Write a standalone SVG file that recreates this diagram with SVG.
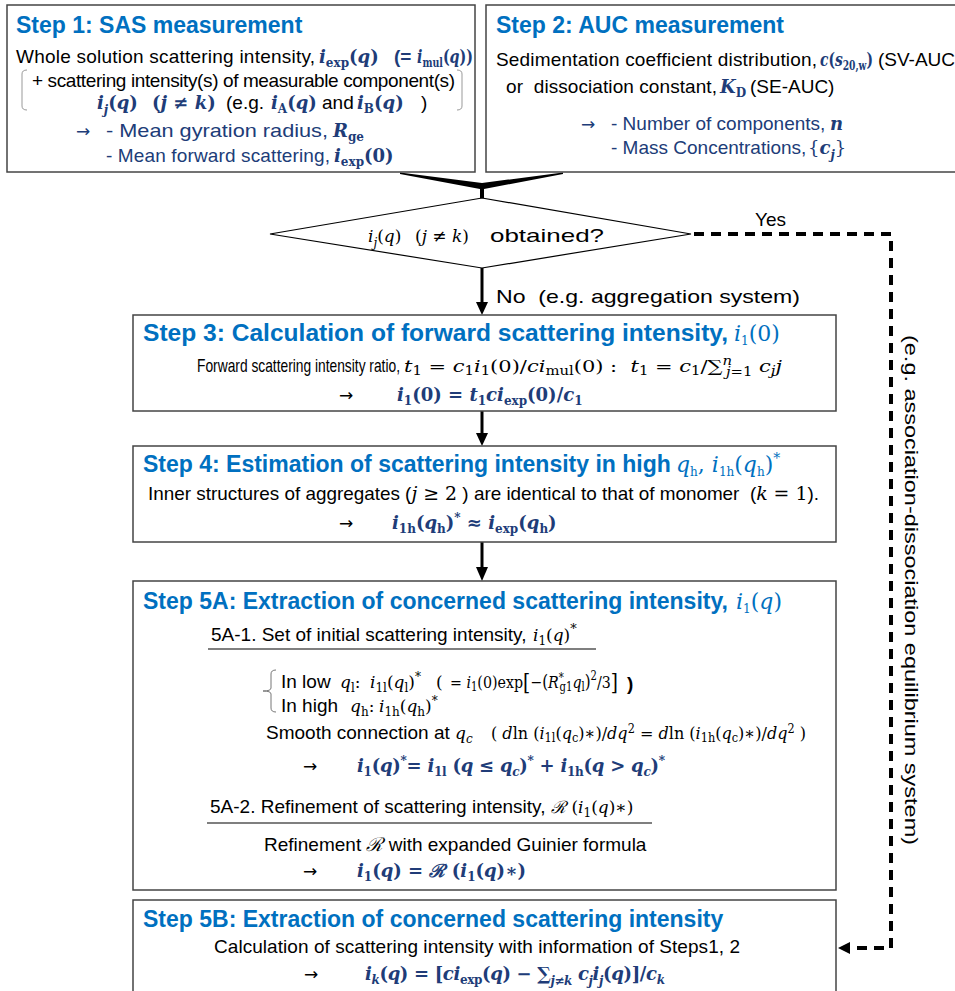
<svg xmlns="http://www.w3.org/2000/svg" width="955" height="991" viewBox="0 0 955 991">
<style>
.box{fill:#fff;stroke:#444;stroke-width:1.5}
.ti{font-family:"Liberation Sans",Arial,sans-serif;font-weight:bold;font-size:23px;fill:#0070C0}
.tx{font-family:"Liberation Sans",Arial,sans-serif;font-size:19px;fill:#000}
.ar{font-family:"DejaVu Sans",sans-serif;font-size:17px;fill:#000}
.nv{fill:#203C78}
.mb{font-family:"DejaVu Serif",serif;font-style:italic;font-weight:bold;font-size:18px;fill:#203C78}
.mr{font-family:"DejaVu Serif",serif;font-style:italic;font-size:17px;fill:#000}
.tm{font-family:"DejaVu Serif",serif;font-style:italic;font-size:22px;fill:#0070C0}
.up{font-style:normal}
.su{font-size:12px;font-style:normal}
.si{font-size:12px;font-style:italic}
.pre{white-space:pre}
.arr{fill:#000}
</style>

<g id="connectors">
  <polygon points="400,172.5 482,183 563,172.5 563,174 484,189 484,199 480,199 480,189 400,174" fill="#000"/>
  <line x1="482" y1="268" x2="482" y2="303" stroke="#000" stroke-width="3"/>
  <polygon class="arr" points="476,302 488,302 482,315"/>
  <line x1="482" y1="411" x2="482" y2="434" stroke="#000" stroke-width="3"/>
  <polygon class="arr" points="476,433 488,433 482,446"/>
  <line x1="482" y1="542" x2="482" y2="568" stroke="#000" stroke-width="3"/>
  <polygon class="arr" points="476,567 488,567 482,581"/>
  <path d="M694,234 H891 V948 H852" fill="none" stroke="#000" stroke-width="4" stroke-dasharray="10 7"/>
  <polygon class="arr" points="850,942 850,954 838,948"/>
  <text class="tx" x="755" y="226" font-size="22">Yes</text>
  <text class="tx pre" x="496" y="303" font-size="22" textLength="304" lengthAdjust="spacingAndGlyphs">No  (e.g. aggregation system)</text>
  <text class="tx" font-size="22" transform="translate(905,335) rotate(90)" textLength="510" lengthAdjust="spacingAndGlyphs">(e.g. association-dissociation equilibrium system)</text>
</g>

<g id="step1">
  <rect class="box" x="7" y="5" width="468" height="167" stroke="#333"/>
  <text class="ti" x="16" y="33">Step 1: SAS measurement</text>
  <text class="tx" x="16" y="63" textLength="299">Whole solution scattering intensity,</text>
  <text class="mb" x="319" y="63" font-size="19">i<tspan class="su" dy="4">exp</tspan><tspan class="up" dy="-4">(</tspan>q<tspan class="up">)</tspan></text>
  <text class="tx nv" x="394" y="63" font-weight="bold">(=</text>
  <text class="mb" x="417" y="63" font-size="18" textLength="56" lengthAdjust="spacingAndGlyphs">i<tspan class="su" dy="4">mul</tspan><tspan class="up" dy="-4">(</tspan>q<tspan class="up">))</tspan></text>
  <path d="M27,70 Q22,70 22,74 V106 Q22,110 27,110 M457,70 Q462,70 462,74 V106 Q462,110 457,110" fill="none" stroke="#999" stroke-width="1"/>
  <text class="tx" x="32" y="87" textLength="423">+ scattering intensity(s) of measurable component(s)</text>
  <text class="mb" x="97" y="109" font-size="19">i<tspan class="si" dy="5">j</tspan><tspan class="up" dy="-5">(</tspan>q<tspan class="up">)</tspan></text>
  <text class="mb pre" x="152" y="109" font-size="19"><tspan class="up">(</tspan>j<tspan class="up"> ≠ </tspan>k<tspan class="up">)</tspan></text>
  <text class="tx" x="226" y="109">(e.g.</text>
  <text class="mb" x="271" y="109" font-size="19">i<tspan class="su" dy="4">A</tspan><tspan class="up" dy="-4">(</tspan>q<tspan class="up">)</tspan></text>
  <text class="tx" x="322" y="109">and</text>
  <text class="mb" x="357" y="109" font-size="19">i<tspan class="su" dy="4">B</tspan><tspan class="up" dy="-4">(</tspan>q<tspan class="up">)</tspan></text>
  <text class="tx" x="421" y="109">)</text>
  <text class="ar nv" x="76" y="137">→</text>
  <text class="tx nv" x="106" y="137" textLength="222" lengthAdjust="spacingAndGlyphs">- Mean gyration radius,</text>
  <text class="mb" x="333" y="137" font-size="19">R<tspan class="su" dy="4">ge</tspan></text>
  <text class="tx nv" x="106" y="162" textLength="224">- Mean forward scattering,</text>
  <text class="mb" x="334" y="162" font-size="19">i<tspan class="su" dy="4">exp</tspan><tspan class="up" dy="-4">(0)</tspan></text>
</g>

<g id="step2">
  <rect class="box" x="486" y="5" width="480" height="167" stroke="#333"/>
  <text class="ti" x="496" y="33">Step 2: AUC measurement</text>
  <text class="tx" x="496" y="66" textLength="321">Sedimentation coefficient distribution,</text>
  <text class="mb" x="820" y="66" font-size="17" textLength="53" lengthAdjust="spacingAndGlyphs">c<tspan class="up">(</tspan>s<tspan class="su" font-size="11" dy="4">20,w</tspan><tspan class="up" dy="-4">)</tspan></text>
  <text class="tx" x="878" y="66">(SV-AUC</text>
  <text class="tx pre" x="506" y="93" textLength="211">or  dissociation constant,</text>
  <text class="mb" x="720" y="93" font-size="18">K<tspan class="su" dy="4">D</tspan></text>
  <text class="tx" x="750" y="93">(SE-AUC)</text>
  <text class="ar nv" x="581" y="130">→</text>
  <text class="tx nv" x="611" y="130">- Number of components,</text>
  <text class="mb" x="830" y="130" font-size="19">n</text>
  <text class="tx nv" x="611" y="154">- Mass Concentrations,</text>
  <text class="mb" x="808" y="154" font-size="19"><tspan class="up" font-weight="normal">{</tspan>c<tspan class="si" dy="5">j</tspan><tspan class="up" font-weight="normal" dy="-5">}</tspan></text>
</g>

<g id="decision">
  <polygon points="482,198 691,234 482,268 270,234" fill="#fff" stroke="#000" stroke-width="1.2"/>
  <text class="mr" x="368" y="242" font-size="22">i<tspan class="si" font-size="14" dy="5">j</tspan><tspan class="up" dy="-5">(</tspan>q<tspan class="up">)</tspan></text>
  <text class="mr pre" x="415" y="242" font-size="22"><tspan class="up">(</tspan>j<tspan class="up"> ≠ </tspan>k<tspan class="up">)</tspan></text>
  <text class="tx" x="490" y="242" font-size="22" textLength="114" lengthAdjust="spacingAndGlyphs">obtained?</text>
</g>

<g id="step3">
  <rect class="box" x="133" y="315" width="703" height="96"/>
  <text class="ti" x="143" y="341" font-size="24" textLength="585" lengthAdjust="spacingAndGlyphs">Step 3: Calculation of forward scattering intensity,</text>
  <text class="tm" x="734" y="341">i<tspan class="su" font-size="15" dy="4">1</tspan><tspan class="up" dy="-4">(0)</tspan></text>
  <text class="tx" x="197" y="372" font-size="17" textLength="203" lengthAdjust="spacingAndGlyphs">Forward scattering intensity ratio,</text>
  <text class="mr pre" x="404" y="372" font-size="15" textLength="378" lengthAdjust="spacingAndGlyphs">t<tspan class="su" font-size="10" dy="3">1</tspan><tspan class="up" dy="-3"> = </tspan>c<tspan class="su" font-size="10" dy="3">1</tspan><tspan dy="-3">i</tspan><tspan class="su" font-size="10" dy="3">1</tspan><tspan class="up" dy="-3">(0)/</tspan>ci<tspan class="su" font-size="10" dy="3">mul</tspan><tspan class="up" dy="-3">(0) :  </tspan>t<tspan class="su" font-size="10" dy="3">1</tspan><tspan class="up" dy="-3"> = </tspan>c<tspan class="su" font-size="10" dy="3">1</tspan><tspan class="up" dy="-3">/∑</tspan><tspan class="si" font-size="9" dy="-7">n</tspan><tspan class="si" font-size="9" dx="-5" dy="11">j</tspan><tspan class="su" font-size="9">=1</tspan><tspan dy="-4"> c</tspan><tspan class="si" font-size="10" dy="3">j</tspan><tspan dy="-3">j</tspan></text>
  <text class="ar" x="339" y="401">→</text>
  <text class="mb" x="397" y="401" font-size="19">i<tspan class="su" dy="4">1</tspan><tspan class="up" dy="-4">(0) = </tspan>t<tspan class="su" dy="4">1</tspan><tspan dy="-4">ci</tspan><tspan class="su" dy="4">exp</tspan><tspan class="up" dy="-4">(0)/</tspan>c<tspan class="su" dy="4">1</tspan></text>
</g>

<g id="step4">
  <rect class="box" x="133" y="446" width="703" height="96"/>
  <text class="ti" x="143" y="472">Step 4: Estimation of scattering intensity in high</text>
  <text class="tm" x="676" y="472">q<tspan class="su" font-size="15" dy="4">h</tspan><tspan class="up" dy="-4">, </tspan>i<tspan class="su" font-size="15" dy="4">1h</tspan><tspan class="up" dy="-4">(</tspan>q<tspan class="su" font-size="15" dy="4">h</tspan><tspan class="up" dy="-4">)</tspan><tspan class="up" font-size="14" dy="-9">*</tspan></text>
  <text class="tx pre" x="148" y="500" font-size="17" textLength="671" lengthAdjust="spacingAndGlyphs">Inner structures of aggregates (<tspan font-family="DejaVu Serif" font-style="italic">j</tspan><tspan font-family="DejaVu Serif"> ≥ 2</tspan> ) are identical to that of monomer  (<tspan font-family="DejaVu Serif" font-style="italic">k</tspan><tspan font-family="DejaVu Serif"> = 1</tspan>).</text>
  <text class="ar" x="339" y="529">→</text>
  <text class="mb pre" x="392" y="529" font-size="19">i<tspan class="su" dy="4">1h</tspan><tspan class="up" dy="-4">(</tspan>q<tspan class="su" dy="4">h</tspan><tspan class="up" dy="-4">)</tspan><tspan class="up" font-size="12" dy="-7">*</tspan><tspan class="up" dy="7"> ≈ </tspan>i<tspan class="su" dy="4">exp</tspan><tspan class="up" dy="-4">(</tspan>q<tspan class="su" dy="4">h</tspan><tspan class="up" dy="-4">)</tspan></text>
</g>

<g id="step5a">
  <rect class="box" x="133" y="581" width="703" height="309"/>
  <text class="ti" x="143" y="609">Step 5A: Extraction of concerned scattering intensity,</text>
  <text class="tm" x="736" y="609">i<tspan class="su" font-size="15" dy="4">1</tspan><tspan class="up" dy="-4">(</tspan>q<tspan class="up">)</tspan></text>
  <text class="tx" x="211" y="641">5A-1. Set of initial scattering intensity,</text>
  <text class="mr" x="533" y="641" font-size="20">i<tspan class="su" font-size="13" dy="4">1</tspan><tspan class="up" dy="-4">(</tspan>q<tspan class="up">)</tspan><tspan class="up" font-size="13" dy="-8">*</tspan></text>
  <line x1="208" y1="649" x2="596" y2="649" stroke="#000" stroke-width="1.2"/>
  <path d="M276,670 Q271,670 271,674 L271,688 Q271,691 263,691 Q271,691 271,694 L271,708 Q271,712 276,712" fill="none" stroke="#777" stroke-width="1"/>
  <text class="tx" x="281" y="688">In low</text>
  <text class="mr" x="340" y="688" font-size="18">q<tspan class="su" dy="4">l</tspan><tspan class="up" dy="-4">:</tspan></text>
  <text class="mr" x="370" y="688" font-size="18">i<tspan class="su" dy="4">1l</tspan><tspan class="up" dy="-4">(</tspan>q<tspan class="su" dy="4">l</tspan><tspan class="up" dy="-4">)</tspan><tspan class="up" font-size="12" dy="-7">*</tspan></text>
  <text class="mr" x="436" y="688" font-size="19"><tspan class="up">(</tspan></text>
  <text class="mr pre" x="450" y="688" font-size="14" textLength="168" lengthAdjust="spacingAndGlyphs"><tspan class="up">= </tspan>i<tspan class="su" font-size="10" dy="3">1</tspan><tspan class="up" dy="-3">(0)exp</tspan><tspan class="up" font-size="22" dy="2">[</tspan><tspan class="up" dy="-2">−</tspan><tspan class="up" font-size="18">(</tspan>R<tspan class="si" font-size="9" dy="-6">*</tspan><tspan class="su" font-size="9" dx="-5" dy="9">g1</tspan><tspan dy="-3">q</tspan><tspan class="su" font-size="9" dy="3">l</tspan><tspan class="up" font-size="18" dy="-3">)</tspan><tspan class="su" font-size="9" dy="-8">2</tspan><tspan class="up" dy="8">/3</tspan><tspan class="up" font-size="22" dy="2">]</tspan></text>
  <text class="tx" x="627" y="690" font-size="24" font-weight="bold">)</text>
  <text class="tx" x="281" y="712">In high</text>
  <text class="mr" x="350" y="712" font-size="18">q<tspan class="su" dy="4">h</tspan><tspan class="up" dy="-4">:</tspan></text>
  <text class="mr" x="379" y="712" font-size="18">i<tspan class="su" dy="4">1h</tspan><tspan class="up" dy="-4">(</tspan>q<tspan class="su" dy="4">h</tspan><tspan class="up" dy="-4">)</tspan><tspan class="up" font-size="12" dy="-7">*</tspan></text>
  <text class="tx" x="266" y="739">Smooth connection at</text>
  <text class="mr" x="455" y="739" font-size="19">q<tspan class="si" dy="4">c</tspan></text>
  <text class="mr pre" x="491" y="739" font-size="15" textLength="315" lengthAdjust="spacingAndGlyphs"><tspan class="up">( </tspan>d<tspan class="up">ln (</tspan>i<tspan class="su" font-size="10" dy="3">1l</tspan><tspan class="up" dy="-3">(</tspan>q<tspan class="su" font-size="10" dy="3">c</tspan><tspan class="up" dy="-3">)∗)/</tspan>dq<tspan class="su" font-size="10" dy="-6">2</tspan><tspan class="up" dy="6"> = </tspan>d<tspan class="up">ln (</tspan>i<tspan class="su" font-size="10" dy="3">1h</tspan><tspan class="up" dy="-3">(</tspan>q<tspan class="su" font-size="10" dy="3">c</tspan><tspan class="up" dy="-3">)∗)/</tspan>dq<tspan class="su" font-size="10" dy="-6">2</tspan><tspan class="up" dy="6"> )</tspan></text>
  <text class="ar" x="303" y="772">→</text>
  <text class="mb pre" x="357" y="772" font-size="19" textLength="308">i<tspan class="su" dy="4">1</tspan><tspan class="up" dy="-4">(</tspan>q<tspan class="up">)</tspan><tspan class="up" font-size="12" dy="-7">*</tspan><tspan class="up" dy="7">= </tspan>i<tspan class="su" dy="4">1l</tspan><tspan class="up" dy="-4"> (</tspan>q<tspan class="up"> ≤ </tspan>q<tspan class="si" dy="4">c</tspan><tspan class="up" dy="-4">)</tspan><tspan class="up" font-size="12" dy="-7">*</tspan><tspan class="up" dy="7"> + </tspan>i<tspan class="su" dy="4">1h</tspan><tspan class="up" dy="-4">(</tspan>q<tspan class="up"> &gt; </tspan>q<tspan class="si" dy="4">c</tspan><tspan class="up" dy="-4">)</tspan><tspan class="up" font-size="12" dy="-7">*</tspan></text>
  <text class="tx" x="210" y="813">5A-2. Refinement of scattering intensity,</text>
  <text class="mr pre" x="551" y="813" font-size="18">ℛ <tspan class="up">(</tspan>i<tspan class="su" dy="4">1</tspan><tspan class="up" dy="-4">(</tspan>q<tspan class="up">)∗)</tspan></text>
  <line x1="207" y1="823" x2="652" y2="823" stroke="#000" stroke-width="1.2"/>
  <text class="tx pre" x="264" y="851">Refinement <tspan font-family="DejaVu Serif" font-style="italic">ℛ</tspan> with expanded Guinier formula</text>
  <text class="ar" x="303" y="877">→</text>
  <text class="mb pre" x="357" y="877" font-size="19">i<tspan class="su" dy="4">1</tspan><tspan class="up" dy="-4">(</tspan>q<tspan class="up">) = </tspan>ℛ <tspan class="up">(</tspan>i<tspan class="su" dy="4">1</tspan><tspan class="up" dy="-4">(</tspan>q<tspan class="up">)∗)</tspan></text>
</g>

<g id="step5b">
  <rect class="box" x="133" y="900" width="703" height="100"/>
  <text class="ti" x="143" y="927">Step 5B: Extraction of concerned scattering intensity</text>
  <text class="tx" x="214" y="953" textLength="526">Calculation of scattering intensity with information of Steps1, 2</text>
  <text class="ar" x="304" y="980">→</text>
  <text class="mb pre" x="365" y="980" font-size="19" textLength="300">i<tspan class="si" dy="4">k</tspan><tspan class="up" dy="-4">(</tspan>q<tspan class="up">) = [</tspan>ci<tspan class="su" dy="4">exp</tspan><tspan class="up" dy="-4">(</tspan>q<tspan class="up">) − ∑</tspan><tspan class="si" dy="5">j≠k</tspan><tspan dy="-5"> c</tspan><tspan class="si" dy="5">j</tspan><tspan dy="-5">i</tspan><tspan class="si" dy="5">j</tspan><tspan class="up" dy="-5">(</tspan>q<tspan class="up">)]/</tspan>c<tspan class="si" dy="4">k</tspan></text>
</g>
</svg>
